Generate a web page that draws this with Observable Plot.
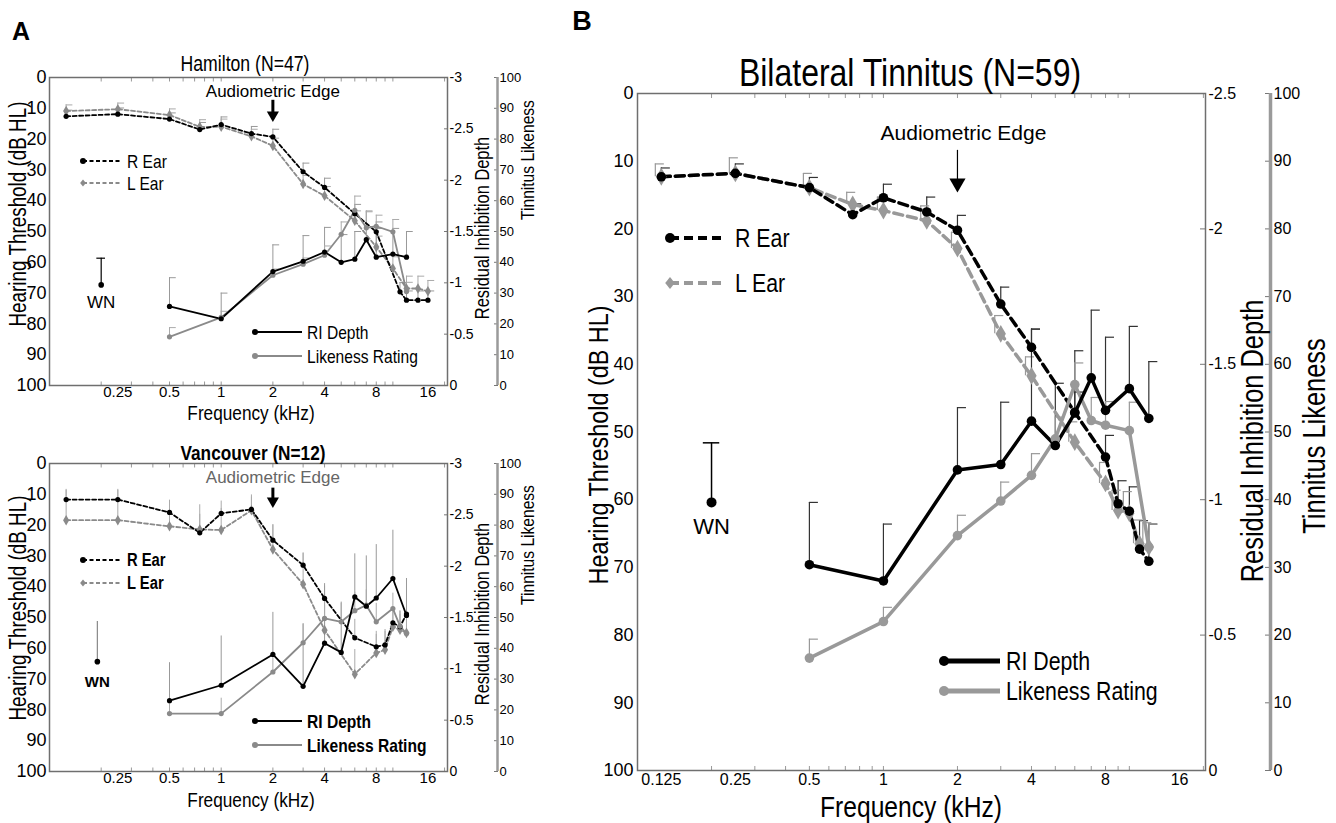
<!DOCTYPE html>
<html><head><meta charset="utf-8">
<script src="https://cdn.jsdelivr.net/npm/d3@7"></script>
<script src="https://cdn.jsdelivr.net/npm/@observablehq/plot@0.6"></script>
<style>
body{margin:0;background:#fff}
#root{position:relative;width:1336px;height:823px;overflow:hidden;background:#fff;color:#000}
</style></head><body><div id="root"></div>
<script>
const REG = "'Liberation Sans',Arial,sans-serif";
const NARROW_SCALE = 0.82;

// ---------- shared ticks ----------
const yTicksDb = [0,10,20,30,40,50,60,70,80,90,100];
const likeTicks = [100,90,80,70,60,50,40,30,20,10,0];
const riTicksA = [-3,-2.5,-2,-1.5,-1,-0.5,0];
const riTicksB = [-2.5,-2,-1.5,-1,-0.5,0];
const xTicksA = [0.25,0.5,1,2,4,8,16];
const xLabelsA = ["0.25","0.5","1","2","4","8","16"];
const xTicksB = [0.125,0.25,0.5,1,2,4,8,16];
const xLabelsB = ["0.125","0.25","0.5","1","2","4","8","16"];
const minorTicks = [0.1,0.2,0.3,0.4,0.5,0.6,0.7,0.8,0.9,1,2,3,4,5,6,7,8,9,10,20];

// ---------- Hamilton (N=47) ----------
const hamRFreq = [0.125,0.25,0.5,0.75,1,1.5,2,3,4,6,8,11,12,14,16];
const hamREar  = [12.6,11.9,13.5,16.9,15.3,18.2,19.3,30.6,35.7,44.2,50.1,69.6,72.3,72.3,72.3];
const hamREarErr = [2,2,2,2.3,2.5,2.3,2.5,2.8,3,3,3.2,3,3,3,3];
const hamLFreq = [0.125,0.25,0.5,0.75,1,1.5,2,3,4,6,8,10,12,14,16];
const hamLEar  = [10.9,10.3,12.2,16.0,16.0,19.1,22.2,34.6,38.4,46.5,55.0,62.0,68.5,68.5,69.4];
const hamLEarErr = [2,2,2,2.3,2.5,2.3,2.5,2.8,3,3.2,3.5,3.8,4,4,3.5];
const hamStimFreq = [0.5,1,2,3,4,5,6,7,8,10,12];
const hamRI    = [-0.77,-0.65,-1.11,-1.21,-1.30,-1.20,-1.23,-1.42,-1.25,-1.28,-1.25];
const hamRIErr = [0.28,0.25,0.26,0.25,0.24,0.27,0.27,0.28,0.28,0.25,0.25];
const hamLike  = [15.8,22.1,35.8,39.4,42.3,49.1,56.9,51.2,51.7,49.9,30.5];
const hamLikeErr = [3,2,2,2,3,4,4.6,5.2,3.6,4,3];
const hamWN = {ri:-0.98, err:0.26};

// ---------- Vancouver (N=12) ----------
const vanEarFreq = [0.125,0.25,0.5,0.75,1,1.5,2,3,4,6,8,9,10,11,12];
const vanREar  = [11.7,11.7,15.9,22.5,16.2,14.9,24.9,33.0,43.8,56.6,59.5,58.9,51.7,53.0,48.9];
const vanREarErr = [3,3,4,6,4,4,5,4,4,6,5,5,5,5,5];
const vanLEar  = [18.4,18.4,20.4,21.4,21.6,15.2,27.9,39.2,54.1,68.4,61.5,60.5,53.0,54.0,55.0];
const vanLEarErr = [10,10,6,8,7,5,8,10,8,8,6,6,5,5,5];
const vanRIFreq = [0.5,1,2,3,4,5,6,7,8,10,12];
const vanRI    = [-0.69,-0.84,-1.14,-0.83,-1.25,-1.16,-1.70,-1.61,-1.69,-1.88,-1.52];
const vanRIErr = [0.37,0.48,0.41,0.61,0.58,0.49,0.42,0.49,0.52,0.47,0.36];
const vanLikeFreq = [0.5,1,2,3,4,5,6,7,8,10,11,12];
const vanLike  = [18.8,18.8,32.3,41.8,49.7,48.6,52.2,54.0,48.6,52.9,47.2,44.8];
const vanLikeErr = [5,5,5,6,7,6,6,5,6,5,5,5];
const vanWN = {ri:-1.07, err:0.39};

// ---------- Bilateral Tinnitus (N=59) ----------
const bEarFreq = [0.125,0.25,0.5,0.75,1,1.5,2,3,4,6,8,9,10,11,12];
const bREar  = [12.3,11.8,13.9,17.9,15.4,17.5,20.2,31.1,37.5,47.1,53.7,60.6,61.7,67.3,69.1];
const bREarErr = [1.3,1.4,1.5,1.6,2.0,2.2,2.2,2.5,2.7,3.0,3.2,3.4,3.6,4.2,5.5];
const bLEar  = [12.3,11.8,13.9,16.4,17.3,18.8,22.9,35.5,41.7,51.5,57.6,61.6,62.0,66.5,67.0];
const bLEarErr = [1.9,2.3,2.1,1.8,2.0,2.2,2.4,2.7,2.8,3.0,3.1,3.0,3.2,3.5,3.6];
const bStimFreq = [0.5,1,2,3,4,5,6,7,8,10,12];
const bRI    = [-0.76,-0.70,-1.11,-1.13,-1.29,-1.20,-1.32,-1.45,-1.33,-1.41,-1.30];
const bRIErr = [0.23,0.21,0.23,0.23,0.34,0.23,0.23,0.25,0.27,0.23,0.21];
const bLike  = [16.6,22.0,34.7,39.8,43.6,49.0,57.0,51.7,51.0,50.2,33.0];
const bLikeErr = [2.8,2.1,3.0,2.8,3.2,3.2,3.2,3.4,3.5,4.2,3.4];
const bWN = {ri:-0.99, err:0.22};

const root = document.getElementById("root");

function txt(str, cx, cy, o) {
  const d = document.createElement("div");
  d.textContent = str;
  const sc = o.narrow ? ` scaleX(${NARROW_SCALE})` : "";
  let tr, origin;
  if (o.align === "left") { tr = "translate(0,-50%)" + sc; origin = "0 50%"; }
  else { tr = "translate(-50%,-50%)" + (o.rot ? " rotate(-90deg)" : "") + sc; origin = "50% 50%"; }
  d.style.cssText = `position:absolute;left:${cx}px;top:${cy}px;transform:${tr};transform-origin:${origin};` +
    `font-family:${REG};font-size:${o.size}px;font-weight:${o.bold ? "bold" : "normal"};` +
    `color:${o.color || "#000"};white-space:nowrap;line-height:1`;
  root.appendChild(d);
}

function legendItem(x, y, o) {
  const ns = "http://www.w3.org/2000/svg";
  const svg = document.createElementNS(ns, "svg");
  const pad = 10;
  svg.setAttribute("width", o.len + 2*pad); svg.setAttribute("height", 2*pad);
  svg.style.cssText = `position:absolute;left:${x-pad}px;top:${y-pad}px;overflow:visible`;
  const ln = document.createElementNS(ns, "line");
  ln.setAttribute("x1", pad); ln.setAttribute("x2", pad + o.len);
  ln.setAttribute("y1", pad); ln.setAttribute("y2", pad);
  ln.setAttribute("stroke", o.color); ln.setAttribute("stroke-width", o.width);
  if (o.dash) ln.setAttribute("stroke-dasharray", o.dash);
  svg.appendChild(ln);
  let m;
  if (o.symbol === "diamond") {
    m = document.createElementNS(ns, "path");
    const r = o.r * 1.2;
    m.setAttribute("d", `M${pad},${pad-r}L${pad+r*0.8},${pad}L${pad},${pad+r}L${pad-r*0.8},${pad}Z`);
  } else {
    m = document.createElementNS(ns, "circle");
    m.setAttribute("cx", pad); m.setAttribute("cy", pad); m.setAttribute("r", o.r);
  }
  m.setAttribute("fill", o.color);
  svg.appendChild(m);
  root.appendChild(svg);
  txt(o.label, x + o.len + o.gap, y, {size:o.size, narrow:true, bold:o.bold, align:"left"});
}

const fmtNum = v => { const r = Math.round(v*100)/100; return String(r === 0 ? 0 : r); };
const labelFor = (ticks, labels) => d => {
  const i = ticks.findIndex(t => Math.abs(t - d) < 1e-6 * t);
  return i >= 0 ? labels[i] : String(d);
};

function makePanel(c) {
  const s = c.style;
  const riToDb = r => (r - c.riTop) / (0 - c.riTop) * 100;
  const dbToRi = d => c.riTop + d / 100 * (0 - c.riTop);
  const errDb = e => e / (0 - c.riTop) * 100;
  const rEar = c.rFreq.map((f,i) => ({f, y:c.rVal[i], top:c.rVal[i] - c.rErr[i]}));
  const lEar = c.lFreq.map((f,i) => ({f, y:c.lVal[i], top:c.lVal[i] - c.lErr[i]}));
  const ri = c.riFreq.map((f,i) => ({f, y:riToDb(c.riVal[i]), top:riToDb(c.riVal[i]) - errDb(c.riErr[i])}));
  const like = c.likeFreq.map((f,i) => ({f, y:100 - c.likeVal[i], top:100 - c.likeVal[i] - c.likeErr[i]}));
  const wn = [{f:c.wnX, y:riToDb(c.wn.ri), top:riToDb(c.wn.ri) - errDb(c.wn.err)}];
  const edge = [{f:2, label:"Audiometric Edge"}];
  const xTickData = c.xTicks.map((t, i) => ({f:t, label:c.xLabels[i]}));

  const marks = [];
  const bars = (data, stroke, dx) => {
    marks.push(Plot.ruleX(data, {x:"f", y1:"y", y2:"top", stroke, strokeWidth:s.barW, dx}));
    if (s.caps) marks.push(Plot.ruleY(data, {y:"top", x1:"f", x2:d => d.f * s.capK, stroke, strokeWidth:s.barW, dx}));
  };
  // axes & frame
  marks.push(Plot.axisX({anchor:"bottom", label:null, ticks:minorTicks, tickSize:-s.minorLen, tickFormat:() => "", stroke:"#999"}));
  marks.push(Plot.axisX({anchor:"top", label:null, ticks:minorTicks, tickSize:-s.minorLen, tickFormat:() => "", stroke:"#999"}));
  // major x tick labels, drawn through the x scale
  marks.push(Plot.text(xTickData, {x:"f", text:"label", frameAnchor:"bottom", lineAnchor:"top", dy:s.xPad,
    fontSize:s.xFont, fontFamily:REG, fill:"#000"}));
  marks.push(Plot.axisY({anchor:"left", label:null, ticks:yTicksDb, tickSize:0, tickPadding:s.yPad,
    tickFormat:d => String(d), fontSize:s.yFont, fontFamily:REG}));
  marks.push(Plot.axisY({anchor:"right", label:null, ticks:c.riTicks.map(riToDb), tickSize:-s.rTick, tickPadding:s.rTick + s.rPad,
    tickFormat:d => fmtNum(dbToRi(d)), fontSize:s.rFont, fontFamily:REG, stroke:"#777"}));
  marks.push(Plot.axisY({anchor:"right", label:null, dx:s.likeDx, ticks:likeTicks.map(v => 100 - v), tickSize:-s.rTick, tickPadding:s.rTick + s.rPad,
    tickFormat:d => fmtNum(100 - d), fontSize:s.likeFont, fontFamily:REG, stroke:"#777"}));
  marks.push(Plot.ruleX([c.xDomain[1]], {dx:s.likeDx, stroke:"#9a9a9a", strokeWidth:s.likeLineW}));
  marks.push(Plot.frame({stroke:"#6f6f6f", strokeWidth:s.frameW}));

  // error bars
  bars(rEar, s.rBar, 0);
  bars(lEar, s.lBar, s.lDx);
  bars(ri, s.riBar, 0);
  bars(like, s.likeBar, 0);
  // WN
  marks.push(Plot.ruleX(wn, {x:"f", y1:"y", y2:"top", stroke:s.wnColor, strokeWidth:s.wnW}));
  if (s.wnCap) marks.push(Plot.ruleY(wn, {y:"top", x1:d => d.f / s.wnCapK, x2:d => d.f * s.wnCapK, stroke:s.wnColor, strokeWidth:s.wnW}));
  marks.push(Plot.dot(wn, {x:"f", y:"y", r:s.wnR, fill:"#000"}));
  marks.push(Plot.text(wn, {x:"f", y:"y", text:() => "WN", dy:s.wnDy, fontSize:s.wnFont, fontFamily:REG, fontWeight:s.wnBold ? "bold" : "normal", fill:"#000"}));

  // lines
  marks.push(Plot.line(lEar, {x:"f", y:"y", stroke:s.gray, strokeWidth:s.lineW, strokeDasharray:s.dash}));
  marks.push(Plot.line(rEar, {x:"f", y:"y", stroke:"#000", strokeWidth:s.lineW, strokeDasharray:s.dash}));
  marks.push(Plot.line(like, {x:"f", y:"y", stroke:s.gray, strokeWidth:s.lineW}));
  marks.push(Plot.line(ri, {x:"f", y:"y", stroke:"#000", strokeWidth:s.lineW}));
  marks.push(Plot.dot(lEar, {x:"f", y:"y", symbol:"diamond", r:s.dotR + 0.6, fill:s.gray}));
  marks.push(Plot.dot(rEar, {x:"f", y:"y", r:s.dotR, fill:"#000"}));
  marks.push(Plot.dot(like, {x:"f", y:"y", r:s.dotR, fill:s.gray}));
  marks.push(Plot.dot(ri, {x:"f", y:"y", r:s.dotR, fill:"#000"}));

  // audiometric edge annotation
  marks.push(Plot.text(edge, {x:"f", y:c.edgeTextDb, text:"label", dx:s.edgeDx, fontSize:s.edgeFont, fontFamily:REG, fill:s.edgeColor}));
  marks.push(Plot.ruleX(edge, {x:"f", y1:c.edgeShaft[0], y2:c.edgeShaft[1], stroke:"#000", strokeWidth:s.edgeShaftW}));
  marks.push(Plot.dot(edge, {x:"f", y:c.edgeShaft[1], symbol:"triangle", rotate:180, r:s.edgeR, fill:"#000"}));

  const svg = Plot.plot({
    width:c.width, height:c.height,
    marginLeft:c.mL, marginRight:c.mR, marginTop:c.mT, marginBottom:c.mB,
    x:{type:"log", domain:c.xDomain, label:null},
    y:{domain:[0,100], reverse:true, label:null},
    style:{background:"transparent", overflow:"visible", color:"#000"},
    marks
  });
  svg.style.position = "absolute";
  svg.style.left = c.left + "px";
  svg.style.top = c.top + "px";
  root.appendChild(svg);
}

const styleA = {lineW:1.8, dash:"4,2.5", dotR:2.6, barW:1, caps:true, capK:1.095, frameW:1.5,
  xFont:15, yFont:18, rFont:14, likeFont:13, minorLen:3.5, gray:"#8a8a8a", likeDx:50, likeLineW:2.5,
  xPad:1, yPad:3, rTick:4, rPad:2, rBar:"#999", lBar:"#aaa", riBar:"#999", likeBar:"#aaa", lDx:0,
  wnColor:"#000", wnW:1.2, wnCap:true, wnCapK:1.06, wnR:2.8, wnDy:18, wnFont:17, wnBold:false,
  edgeDx:0, edgeFont:17, edgeColor:"#000", edgeShaftW:3, edgeR:4.5};
const styleV = {...styleA, caps:false, rBar:"#aaa", lBar:"#aaa", riBar:"#999", likeBar:"#aaa",
  wnColor:"#888", wnCap:false, wnDy:21, wnFont:15, wnBold:true, edgeColor:"#666"};
const styleB = {lineW:3.5, dash:"9,5", dotR:4.8, barW:1.2, caps:true, capK:1.088, frameW:1.5,
  xFont:16, yFont:18, rFont:16, likeFont:16, minorLen:4, gray:"#999", likeDx:65, likeLineW:3.5,
  xPad:3, yPad:4, rTick:6, rPad:3, rBar:"#333", lBar:"#999", riBar:"#333", likeBar:"#999", lDx:-6,
  wnColor:"#000", wnW:1.5, wnCap:true, wnCapK:1.08, wnR:5, wnDy:25, wnFont:22, wnBold:false,
  edgeDx:6, edgeFont:21, edgeColor:"#000", edgeShaftW:1.2, edgeR:6};

// Panel A top: Hamilton
makePanel({left:0, top:50, width:540, height:360, mL:49, mR:93, mT:27, mB:25,
  xDomain:[0.1,20.8], xTicks:xTicksA, xLabels:xLabelsA, riTop:-3, riTicks:riTicksA,
  rFreq:hamRFreq, rVal:hamREar, rErr:hamREarErr, lFreq:hamLFreq, lVal:hamLEar, lErr:hamLEarErr,
  riFreq:hamStimFreq, riVal:hamRI, riErr:hamRIErr, likeFreq:hamStimFreq, likeVal:hamLike, likeErr:hamLikeErr,
  wn:hamWN, wnX:0.2, edgeTextDb:4.4, edgeShaft:[7.4,12.2], style:styleA});

// Panel A bottom: Vancouver
makePanel({left:0, top:436, width:540, height:360, mL:49, mR:93, mT:27, mB:25,
  xDomain:[0.1,20.8], xTicks:xTicksA, xLabels:xLabelsA, riTop:-3, riTicks:riTicksA,
  rFreq:vanEarFreq, rVal:vanREar, rErr:vanREarErr, lFreq:vanEarFreq, lVal:vanLEar, lErr:vanLEarErr,
  riFreq:vanRIFreq, riVal:vanRI, riErr:vanRIErr, likeFreq:vanLikeFreq, likeVal:vanLike, likeErr:vanLikeErr,
  wn:vanWN, wnX:0.19, edgeTextDb:4.4, edgeShaft:[8.0,12.2], style:styleV});

// Panel B
makePanel({left:560, top:40, width:776, height:783, mL:77, mR:131, mT:53, mB:53,
  xDomain:[0.1,20.4], xTicks:xTicksB, xLabels:xLabelsB, riTop:-2.5, riTicks:riTicksB,
  rFreq:bEarFreq, rVal:bREar, rErr:bREarErr, lFreq:bEarFreq, lVal:bLEar, lErr:bLEarErr,
  riFreq:bStimFreq, riVal:bRI, riErr:bRIErr, likeFreq:bStimFreq, likeVal:bLike, likeErr:bLikeErr,
  wn:bWN, wnX:0.2, edgeTextDb:5.9, edgeShaft:[8.4,13.25], style:styleB});

// ---------- text ----------
txt("A", 21, 31, {size:25, bold:true});
txt("B", 582, 21, {size:27, bold:true});
txt("Hamilton (N=47)", 245, 65, {size:21.5, narrow:true});
txt("Vancouver (N=12)", 253, 452, {size:21, narrow:true, bold:true});
txt("Bilateral Tinnitus (N=59)", 910, 72, {size:39, narrow:true});

txt("Hearing Threshold (dB HL)", 18, 214, {size:23, narrow:true, rot:true});
txt("Hearing Threshold (dB HL)", 18, 608, {size:23, narrow:true, rot:true});
txt("Hearing Threshold (dB HL)", 598, 445, {size:28.5, narrow:true, rot:true});
txt("Frequency (kHz)", 251, 412, {size:21, narrow:true});
txt("Frequency (kHz)", 251, 799, {size:21, narrow:true});
txt("Frequency (kHz)", 911, 807, {size:30, narrow:true});
txt("Residual Inhibition Depth", 482, 228, {size:20, narrow:true, rot:true});
txt("Residual Inhibition Depth", 482, 614, {size:20, narrow:true, rot:true});
txt("Residual Inhibition Depth", 1252, 441, {size:31, narrow:true, rot:true});
txt("Tinnitus Likeness", 527, 160, {size:19, narrow:true, rot:true});
txt("Tinnitus Likeness", 527, 545, {size:19, narrow:true, rot:true});
txt("Tinnitus Likeness", 1314, 436, {size:31, narrow:true, rot:true});

// ---------- legends ----------
legendItem(83, 161, {len:39, gap:5, color:"#000", width:2, dash:"4,2.5", r:3, label:"R Ear", size:19});
legendItem(83, 183, {len:39, gap:5, color:"#8a8a8a", width:2, dash:"4,2.5", r:3, symbol:"diamond", label:"L Ear", size:19});
legendItem(255, 332, {len:47, gap:5, color:"#000", width:2, r:3, label:"RI Depth", size:19});
legendItem(255, 356, {len:47, gap:5, color:"#8a8a8a", width:2, r:3, label:"Likeness Rating", size:19});

legendItem(83, 560, {len:39, gap:5, color:"#000", width:2, dash:"4,2.5", r:3, label:"R Ear", size:18, bold:true});
legendItem(83, 583, {len:39, gap:5, color:"#8a8a8a", width:2, dash:"4,2.5", r:3, symbol:"diamond", label:"L Ear", size:18, bold:true});
legendItem(255, 721, {len:47, gap:5, color:"#000", width:2, r:3, label:"RI Depth", size:19, bold:true});
legendItem(255, 745, {len:47, gap:5, color:"#8a8a8a", width:2, r:3, label:"Likeness Rating", size:19, bold:true});

legendItem(670, 238, {len:55, gap:10, color:"#000", width:4, dash:"9,5", r:5, label:"R Ear", size:26});
legendItem(670, 283, {len:55, gap:10, color:"#999", width:4, dash:"9,5", r:5, symbol:"diamond", label:"L Ear", size:26});
legendItem(944, 661, {len:56, gap:6, color:"#000", width:5, r:5, label:"RI Depth", size:26});
legendItem(944, 691, {len:56, gap:6, color:"#999", width:5, r:5, label:"Likeness Rating", size:26});
</script></body></html>
